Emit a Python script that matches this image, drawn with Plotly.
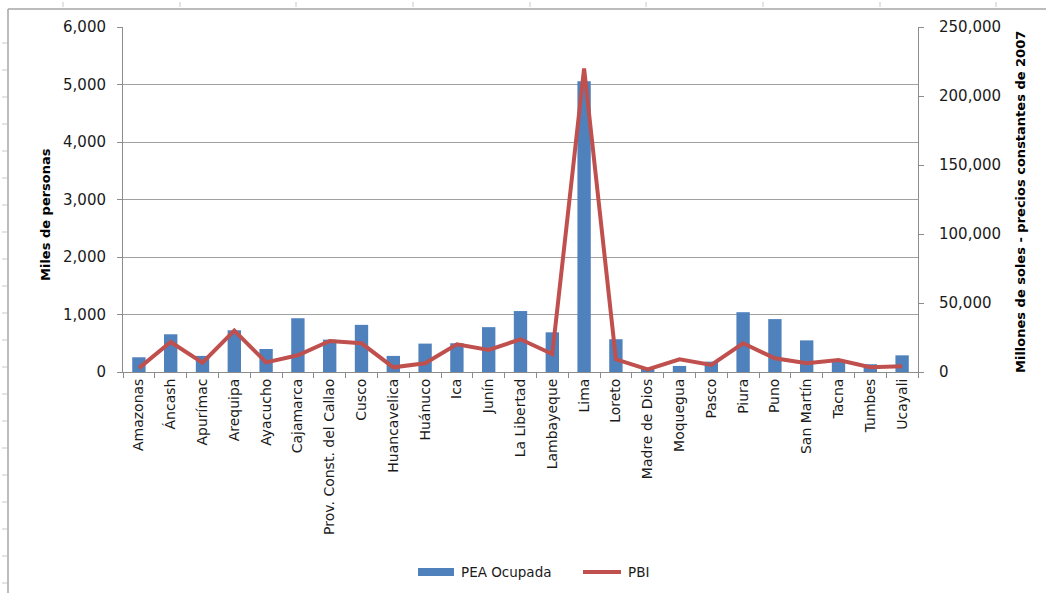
import plotly.graph_objects as go

regiones = [
    "Amazonas", "Áncash", "Apurímac", "Arequipa", "Ayacucho", "Cajamarca",
    "Prov. Const. del Callao", "Cusco", "Huancavelica", "Huánuco", "Ica",
    "Junín", "La Libertad", "Lambayeque", "Lima", "Loreto", "Madre de Dios",
    "Moquegua", "Pasco", "Piura", "Puno", "San Martín", "Tacna", "Tumbes",
    "Ucayali",
]

# Población económicamente activa ocupada (miles de personas)
pea_ocupada = [
    256, 656, 280, 726, 400, 935, 563, 820, 280, 494, 500,
    780, 1060, 690, 5056, 570, 70, 105, 180, 1040, 920, 550,
    190, 135, 290,
]

# PBI (millones de soles a precios constantes de 2007)
pbi = [
    2800, 21700, 6700, 30000, 7000, 12100, 22500, 20800, 3400, 6300, 20000,
    16000, 23700, 13000, 220000, 9200, 1800, 9200, 5100, 20800, 9900, 6300,
    8700, 3400, 4100,
]

left_ticks = [0, 1000, 2000, 3000, 4000, 5000, 6000]
right_ticks = [0, 50000, 100000, 150000, 200000, 250000]

FONT = "DejaVu Sans"
TXT = "#1a1a1a"
AX = "#8c8c8c"
BLUE = "#4F81BD"
RED = "#C0504D"

# Área de trazado en píxeles (izquierda, derecha, arriba, abajo)
W, H = 1046, 593
L, R, T, B = 123, 918, 27, 372


def px(x):
    return (x - L) / (R - L)


def py(y):
    return (B - y) / (B - T)


fig = go.Figure()
fig.add_trace(go.Bar(
    x=regiones, y=pea_ocupada, name="PEA Ocupada",
    marker=dict(color=BLUE, line=dict(width=0)),
    width=0.42, yaxis="y", showlegend=False,
))
fig.add_trace(go.Scatter(
    x=regiones, y=pbi, name="PBI", mode="lines",
    line=dict(color=RED, width=4), yaxis="y2", showlegend=False,
))

fig.update_layout(
    width=W, height=H,
    margin=dict(l=L, r=W - R, t=T, b=H - B, autoexpand=False),
    paper_bgcolor="white", plot_bgcolor="white",
    font=dict(family=FONT, size=14, color=TXT),
    showlegend=False,
    xaxis=dict(
        type="category", showgrid=False, showline=True, linecolor=AX,
        ticks="outside", tickson="boundaries", ticklen=5, tickcolor=AX,
        tickangle=-90, tickfont=dict(family=FONT, size=14, color=TXT),
        range=[-0.5, len(regiones) - 0.5], automargin=False,
    ),
    yaxis=dict(
        range=[0, 6000], tickvals=left_ticks, tickformat=",d",
        showgrid=True, gridcolor="#a0a0a0", gridwidth=1,
        showline=True, linecolor=AX, ticks="outside", ticklen=5, tickcolor=AX,
        ticklabelstandoff=8,
        tickfont=dict(family=FONT, size=15, color=TXT), zeroline=False,
        automargin=False,
    ),
    yaxis2=dict(
        range=[0, 250000], tickvals=right_ticks, tickformat=",d",
        overlaying="y", side="right", showgrid=False,
        showline=True, linecolor=AX, ticks="outside", ticklen=5, tickcolor=AX,
        ticklabelstandoff=12,
        tickfont=dict(family=FONT, size=15, color=TXT), zeroline=False,
        automargin=False,
    ),
)

# Títulos de los ejes
fig.add_annotation(x=px(45), y=py(215), xref="paper", yref="paper",
                   text="<b>Miles de personas</b>", textangle=-90,
                   showarrow=False, xanchor="center", yanchor="middle",
                   font=dict(family=FONT, size=13, color="#000"))
fig.add_annotation(x=px(1020), y=py(202), xref="paper", yref="paper",
                   text="<b>Millones de soles - precios constantes de 2007</b>",
                   textangle=-90, showarrow=False, xanchor="center",
                   yanchor="middle", font=dict(family=FONT, size=13, color="#000"))

# Leyenda inferior
ly = 572
fig.add_shape(type="rect", xref="paper", yref="paper",
              x0=px(418), x1=px(454), y0=py(ly + 4), y1=py(ly - 4),
              fillcolor=BLUE, line=dict(width=0))
fig.add_annotation(x=px(459), y=py(ly), xref="paper", yref="paper",
                   text="PEA Ocupada", showarrow=False, xanchor="left",
                   yanchor="middle", font=dict(family=FONT, size=13.5, color=TXT))
fig.add_shape(type="line", xref="paper", yref="paper",
              x0=px(583), x1=px(621), y0=py(ly), y1=py(ly),
              line=dict(color=RED, width=4))
fig.add_annotation(x=px(626), y=py(ly), xref="paper", yref="paper",
                   text="PBI", showarrow=False, xanchor="left",
                   yanchor="middle", font=dict(family=FONT, size=13.5, color=TXT))

# Marco exterior del gráfico
frame = "#a6a6a6"
fig.add_shape(type="line", xref="paper", yref="paper",
              x0=px(8), x1=px(W + 5), y0=py(9), y1=py(9),
              line=dict(color=frame, width=1.5))
fig.add_shape(type="line", xref="paper", yref="paper",
              x0=px(8), x1=px(8), y0=py(9), y1=py(H + 5),
              line=dict(color=frame, width=1.5))

# Regla del marco: marcas cortas en los bordes
for yy in range(43, H, 27):
    fig.add_shape(type="line", xref="paper", yref="paper",
                  x0=px(2), x1=px(7), y0=py(yy), y1=py(yy),
                  line=dict(color="#c8c8c8", width=1))
for xx in (63, 180, 296, 413, 530, 646, 763, 880, 996):
    fig.add_shape(type="line", xref="paper", yref="paper",
                  x0=px(xx), x1=px(xx), y0=py(2), y1=py(7),
                  line=dict(color="#c8c8c8", width=1))

fig.write_html("out.html")
